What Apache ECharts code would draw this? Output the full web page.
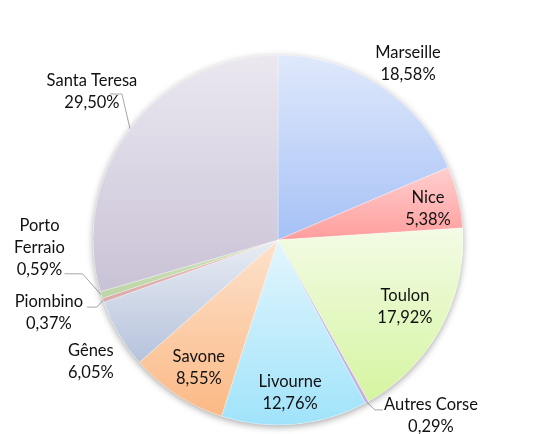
<!DOCTYPE html>
<html>
<head>
<meta charset="utf-8">
<title>Répartition par port</title>
<style>
    html, body { margin: 0; padding: 0; background: #fff; }
    #main { width: 537px; height: 434px; }
</style>
</head>
<body>
<div id="main"></div>
<script src="https://cdn.jsdelivr.net/npm/echarts@6/dist/echarts.min.js"></script>
<script>
    var ports = ['Marseille', 'Nice', 'Toulon', 'Autres Corse', 'Livourne', 'Savone', 'Gênes', 'Piombino', 'Porto Ferraio', 'Santa Teresa'];
    var shares = [18.58, 5.38, 17.92, 0.29, 12.76, 8.55, 6.05, 0.37, 0.59, 29.50];

    // gradient top / bottom per slice
    var topColors = ['#e0e9fb', '#ffcfcf', '#f3fbe5', '#cdbbe8', '#e3f6fd', '#fde2cc', '#e8ecf3', '#e6baba', '#cde2b8', '#ebe8f0'];
    var bottomColors = ['#a6c1f6', '#ff9d9d', '#d5f5a0', '#c2aee2', '#a0e3fa', '#fbb985', '#b6c3dc', '#dcaaaa', '#bdd6a6', '#c9c2d6'];

    // label placement: distance (x radius) and angle shift from slice middle (deg)
    var labelDist = [1.183, 0.828, 0.776, 1.26, 0.83, 0.813, 1.207, 1.30, 1.29, 1.285];
    var labelShift = [3.0, 1.7, -0.7, -12.3, 0.7, -1.4, -2.5, 1.3, 15.4, 1.6];
    // leader lines: [dx end, dy end, elbow length]
    var leaders = [null, null, null, [-48, -6, -8], null, null, null, [38, -6, 10], [25, 26, 18], [18, 2, 12]];

    var cx = 278, cy = 240, R = 185;

    var total = shares.reduce(function (a, b) { return a + b; }, 0);
    var mids = [];
    var acc = 0;
    shares.forEach(function (v) {
        mids.push((acc + v / 2) / total * 360);
        acc += v;
    });

    function pt(angle, r) {
        var a = angle * Math.PI / 180;
        return [cx + r * Math.sin(a), cy - r * Math.cos(a)];
    }

    var data = ports.map(function (name, i) {
        return {
            name: name,
            value: shares[i],
            itemStyle: {
                color: {
                    type: 'linear', x: 0, y: 0, x2: 0, y2: 1,
                    colorStops: [{offset: 0, color: topColors[i]}, {offset: 1, color: bottomColors[i]}]
                }
            },
            labelLine: {show: leaders[i] != null}
        };
    });

    var myChart = echarts.init(document.getElementById('main'));
    var option = {
        animation: false,
        series: [
            {
                type: 'pie',
                silent: true,
                center: [cx, cy],
                radius: R,
                label: {show: false},
                labelLine: {show: false},
                itemStyle: {
                    color: '#ffffff',
                    shadowBlur: 7,
                    shadowOffsetY: 2,
                    shadowColor: 'rgba(0,0,0,0.35)'
                },
                data: [{value: 1}]
            },
            {
                type: 'pie',
                center: [cx, cy],
                radius: R,
                startAngle: 90,
                clockwise: true,
                avoidLabelOverlap: false,
                itemStyle: {
                    borderColor: 'rgba(255,255,255,0.5)',
                    borderWidth: 0.6
                },
                label: {
                    position: 'outside',
                    fontFamily: 'Lato',
                    fontSize: 16.5,
                    lineHeight: 22,
                    color: '#111',
                    formatter: function (p) {
                        return p.name.replace('Porto ', 'Porto\n') + '\n' +
                            shares[p.dataIndex].toFixed(2).replace('.', ',') + '%';
                    }
                },
                labelLine: {
                    lineStyle: {color: '#a6a6a6', width: 1}
                },
                labelLayout: function (params) {
                    if (params.seriesIndex !== 1) return;
                    var i = params.dataIndex;
                    var pos = pt(mids[i] + labelShift[i], labelDist[i] * R);
                    var res = {x: pos[0], y: pos[1], align: 'center', verticalAlign: 'middle'};
                    var l = leaders[i];
                    if (l) {
                        var end = [pos[0] + l[0], pos[1] + l[1]];
                        var elbow = [end[0] + l[2], end[1]];
                        res.labelLinePoints = [pt(mids[i], R), elbow, end];
                    }
                    return res;
                },
                data: data
            }
        ]
    };
    myChart.setOption(option);
</script>
</body>
</html>
